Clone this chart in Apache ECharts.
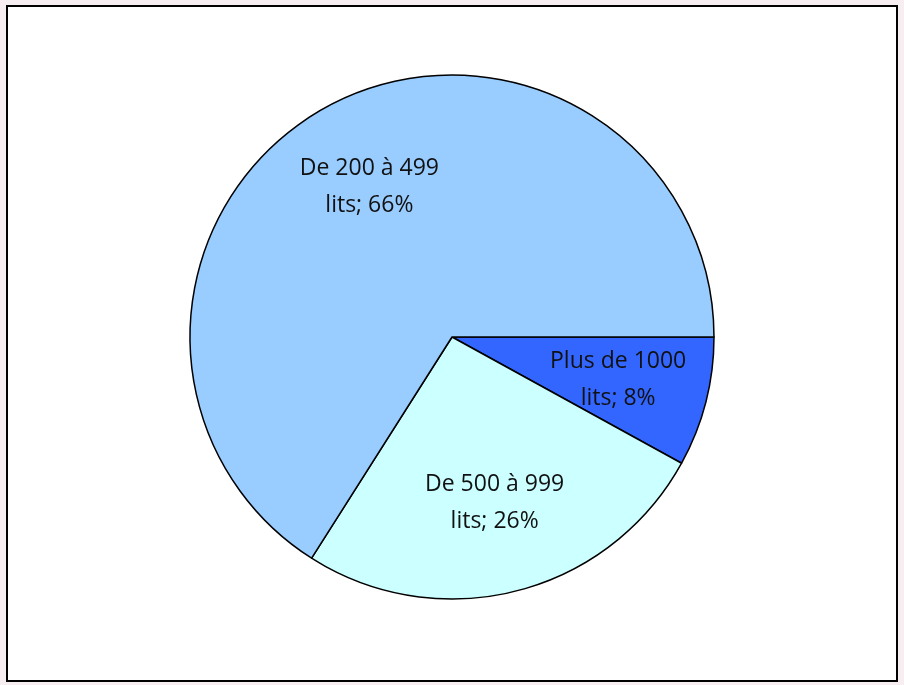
<!DOCTYPE html>
<html>
<head>
<meta charset="utf-8">
<script src="https://cdn.jsdelivr.net/npm/echarts@6/dist/echarts.min.js"></script>
<style>
  html, body { margin: 0; padding: 0; background: #f7eef1; }
  #chart { width: 904px; height: 685px; }
</style>
</head>
<body>
<div id="chart"></div>
<script>
// données (sens horaire depuis 3 h)
const categories = ['Plus de 1000 lits', 'De 500 à 999 lits', 'De 200 à 499 lits'];
const labelLines = [['Plus de 1000', 'lits; 8%'], ['De 500 à 999', 'lits; 26%'], ['De 200 à 499', 'lits; 66%']];
const shares = [8, 26, 66];
const colors = ['#3366FF', '#CCFFFF', '#99CCFF'];

const chart = echarts.init(document.getElementById('chart'));

const pieData = categories.map((name, i) => ({
  name: name,
  value: shares[i],
  itemStyle: { color: colors[i] }
}));

// série transparente uniquement pour placer les étiquettes plus loin du centre
const labelData = categories.map((name, i) => ({
  name: name,
  value: shares[i],
  label: { formatter: labelLines[i].join('\n') }
}));

chart.setOption({
  animation: false,
  graphic: [{
    type: 'rect',
    shape: { x: 7, y: 6, width: 890, height: 675 },
    style: { fill: '#ffffff', stroke: '#000000', lineWidth: 2 },
    z: -10
  }],
  series: [
    {
      type: 'pie',
      center: [452, 337],
      radius: [0, 262],
      startAngle: 0,
      clockwise: true,
      label: { show: false },
      labelLine: { show: false },
      itemStyle: { borderColor: '#000000', borderWidth: 1.5 },
      emphasis: { disabled: true },
      data: pieData
    },
    {
      type: 'pie',
      center: [452, 337],
      radius: [75, 262],
      startAngle: 0,
      clockwise: true,
      silent: true,
      itemStyle: { color: 'rgba(0,0,0,0)', borderWidth: 0 },
      label: {
        show: true,
        position: 'inside',
        color: '#111111',
        fontFamily: 'Open Sans',
        fontSize: 23,
        lineHeight: 37
      },
      labelLine: { show: false },
      data: labelData
    }
  ]
});
</script>
</body>
</html>
